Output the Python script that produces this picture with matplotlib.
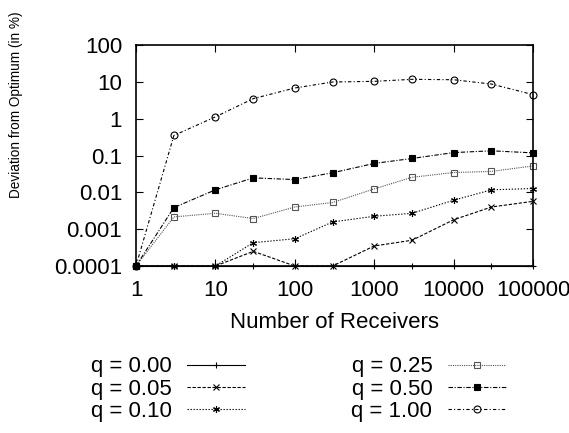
import matplotlib
matplotlib.use("Agg")
import matplotlib.pyplot as plt
from matplotlib.ticker import LogLocator, FixedLocator, FuncFormatter, NullFormatter

# Number of receivers (x axis)
receivers = [1, 3, 10, 30, 100, 300, 1000, 3000, 10000, 30000, 100000]

# Deviation from optimum (in %) per q value
q000 = [1e-4, 1e-4, 1e-4, 1e-4, 1e-4, 1e-4, 1e-4, 1e-4, 1e-4, 1e-4, 1e-4]
q005 = [1e-4, 1e-4, 1e-4, 2.5e-4, 1e-4, 1e-4, 3.5e-4, 5e-4, 0.0018, 0.004, 0.0057]
q010 = [1e-4, 1e-4, 1e-4, 4.3e-4, 5.5e-4, 0.00157, 0.00224, 0.0027, 0.0061, 0.0117, 0.0127]
q025 = [1e-4, 0.00215, 0.0027, 0.00194, 0.004, 0.0053, 0.0124, 0.0256, 0.0345, 0.037, 0.052]
q050 = [1e-4, 0.00386, 0.0117, 0.0247, 0.0222, 0.034, 0.061, 0.083, 0.12, 0.134, 0.118]
q100 = [1e-4, 0.35, 1.12, 3.5, 6.8, 9.9, 10.3, 11.7, 11.4, 8.7, 4.5]

labels = ["q = 0.00", "q = 0.05", "q = 0.10", "q = 0.25", "q = 0.50", "q = 1.00"]
series = [q000, q005, q010, q025, q050, q100]

plt.rcParams['font.family'] = ['Liberation Sans', 'DejaVu Sans']

# gnuplot-like line types
styles = [
    dict(ls='-', marker='+', mfc='none'),
    dict(ls=(0, (3, 1.5)), marker='x', mfc='none'),
    dict(ls=(0, (1.2, 1.5)), marker=(6, 2, 0), mfc='none'),
    dict(ls=(0, (1, 1)), marker='s', mfc='none', color='#555555'),
    dict(ls=(0, (4, 1.5, 1, 1.5)), marker='s', mfc='black'),
    dict(ls=(0, (3, 2, 1, 2)), marker='o', mfc='none'),
]

fig = plt.figure(figsize=(5.69, 4.33), dpi=100)
ax = fig.add_axes([136 / 569, 1 - 266 / 433, 397 / 569, 221 / 433])

for vals, lab, st in zip(series, labels, styles):
    color = st.pop('color', 'black')
    ax.plot(receivers, vals, label=lab, color=color, lw=0.8, ms=5,
            mew=0.8, mec=color, clip_on=False, **st)

ax.set_xscale('log')
ax.set_yscale('log')
ax.set_xlim(1, 100000)
ax.set_ylim(1e-4, 100)

ax.xaxis.set_major_locator(FixedLocator([1, 10, 100, 1000, 10000, 100000]))
ax.xaxis.set_minor_locator(FixedLocator([]))
ax.yaxis.set_major_locator(FixedLocator([1e-4, 1e-3, 1e-2, 0.1, 1, 10, 100]))
ax.yaxis.set_minor_locator(LogLocator(base=10, subs=(2, 5, 8)))
ax.yaxis.set_minor_formatter(NullFormatter())
ax.xaxis.set_major_formatter(FuncFormatter(lambda v, p: f"{v:g}" if v < 1e5 else "100000"))
ax.yaxis.set_major_formatter(FuncFormatter(lambda v, p: f"{v:.4f}".rstrip('0').rstrip('.') if v < 1 else f"{v:g}"))

ax.tick_params(which='both', direction='in', top=True, right=True, labelsize=16, width=0.8)
ax.tick_params(which='major', length=5, pad=10)
ax.tick_params(which='minor', length=3)
for s in ax.spines.values():
    s.set_linewidth(1.2)

ax.set_xlabel("Number of Receivers", fontsize=16, labelpad=8)
fig.text(16 / 569, 1 - 198 / 433, "Deviation from Optimum (in %)", rotation=90,
         ha='center', va='bottom', fontsize=9.8)

fig.legend(loc='center', bbox_to_anchor=(0.524, 1 - 389 / 433), ncol=2, frameon=False,
           markerfirst=False, fontsize=16, handlelength=2.6, columnspacing=4.8,
           labelspacing=0.05, handletextpad=0.7)

fig.savefig("out.png", dpi=100)
